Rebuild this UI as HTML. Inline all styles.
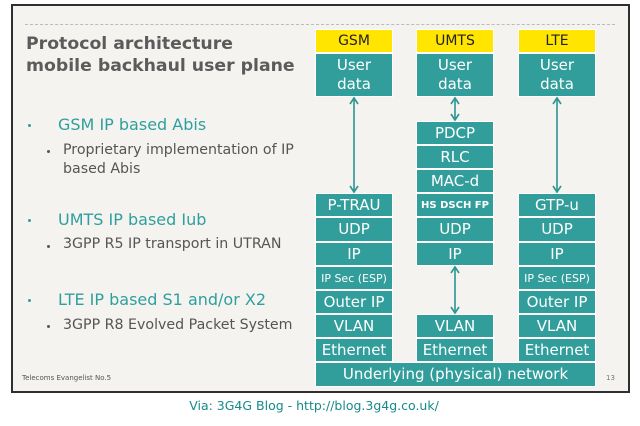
<!DOCTYPE html>
<html><head><meta charset="utf-8">
<style>
html,body{margin:0;padding:0;width:640px;height:426px;background:#fff;overflow:hidden;}
body{position:relative;font-family:"DejaVu Sans","Liberation Sans",sans-serif;}
.slide{position:absolute;left:11px;top:4px;width:615px;height:385px;border:2px solid #2f2f2f;background:#f4f3f0;}
.dash{position:absolute;left:25px;top:24px;width:590px;border-top:1px dashed #b8bcbc;}
.t{position:absolute;white-space:nowrap;}
.title{left:26px;top:33px;font-size:17.3px;font-weight:bold;color:#5b5b5b;line-height:22px;}
.h{color:#2f9f9d;font-size:16px;}
.s{color:#555;font-size:14.2px;line-height:19px;}
.dot{position:absolute;width:3px;height:3px;border-radius:50%;}
.b{position:absolute;box-sizing:border-box;background:#319e9b;border:1px solid #fff;color:#fff;font-size:15px;display:flex;align-items:center;justify-content:center;text-align:center;line-height:19px;}
.y{position:absolute;box-sizing:border-box;background:#ffe500;border:1px solid #fff;color:#222;font-size:14px;display:flex;align-items:center;justify-content:center;}
.sm{font-size:10px;font-weight:bold;}
.cap{position:absolute;left:0;width:628px;text-align:center;top:398px;font-size:12.5px;color:#178a8a;}
</style></head><body>
<div class="slide"></div>
<div class="dash"></div>
<div class="t title">Protocol architecture<br>mobile backhaul user plane</div>

<div class="dot" style="left:28px;top:124px;background:#2f9f9d"></div>
<div class="t h" style="left:58px;top:115px">GSM IP based Abis</div>
<div class="dot" style="left:47px;top:150px;background:#555"></div>
<div class="t s" style="left:63px;top:141px">Proprietary implementation of IP<br>based Abis</div>

<div class="dot" style="left:28px;top:219px;background:#2f9f9d"></div>
<div class="t h" style="left:58px;top:210px">UMTS IP based Iub</div>
<div class="dot" style="left:47px;top:245px;background:#555"></div>
<div class="t s" style="left:63px;top:235px">3GPP R5 IP transport in UTRAN</div>

<div class="dot" style="left:28px;top:299px;background:#2f9f9d"></div>
<div class="t h" style="left:58px;top:290px">LTE IP based S1 and/or X2</div>
<div class="dot" style="left:47px;top:325px;background:#555"></div>
<div class="t s" style="left:63px;top:316px">3GPP R8 Evolved Packet System</div>

<div class="t" style="left:22px;top:374px;font-size:7px;color:#555">Telecoms Evangelist No.5</div>
<div class="t" style="left:606px;top:374px;font-size:7px;color:#777">13</div>

<div class="y" style="left:315px;top:29px;width:78px;height:24px">GSM</div>
<div class="y" style="left:416px;top:29px;width:78px;height:24px">UMTS</div>
<div class="y" style="left:518px;top:29px;width:78px;height:24px">LTE</div>
<div class="b" style="left:315px;top:53px;width:78px;height:44px">User<br>data</div>
<div class="b" style="left:416px;top:53px;width:78px;height:44px">User<br>data</div>
<div class="b" style="left:518px;top:53px;width:78px;height:44px">User<br>data</div>

<div class="b" style="left:416px;top:121px;width:78px;height:24px">PDCP</div>
<div class="b" style="left:416px;top:145px;width:78px;height:24px">RLC</div>
<div class="b" style="left:416px;top:169px;width:78px;height:24px">MAC-d</div>

<div class="b" style="left:315px;top:193px;width:78px;height:24px">P-TRAU</div>
<div class="b sm" style="left:416px;top:193px;width:78px;height:24px">HS DSCH FP</div>
<div class="b" style="left:518px;top:193px;width:78px;height:24px">GTP-u</div>

<div class="b" style="left:315px;top:217px;width:78px;height:25px">UDP</div>
<div class="b" style="left:416px;top:217px;width:78px;height:25px">UDP</div>
<div class="b" style="left:518px;top:217px;width:78px;height:25px">UDP</div>

<div class="b" style="left:315px;top:242px;width:78px;height:24px">IP</div>
<div class="b" style="left:416px;top:242px;width:78px;height:24px">IP</div>
<div class="b" style="left:518px;top:242px;width:78px;height:24px">IP</div>

<div class="b" style="left:315px;top:266px;width:78px;height:24px;font-size:11px">IP Sec (ESP)</div>
<div class="b" style="left:518px;top:266px;width:78px;height:24px;font-size:11px">IP Sec (ESP)</div>

<div class="b" style="left:315px;top:290px;width:78px;height:24px">Outer IP</div>
<div class="b" style="left:518px;top:290px;width:78px;height:24px">Outer IP</div>

<div class="b" style="left:315px;top:314px;width:78px;height:24px">VLAN</div>
<div class="b" style="left:416px;top:314px;width:78px;height:24px">VLAN</div>
<div class="b" style="left:518px;top:314px;width:78px;height:24px">VLAN</div>

<div class="b" style="left:315px;top:338px;width:78px;height:24px">Ethernet</div>
<div class="b" style="left:416px;top:338px;width:78px;height:24px">Ethernet</div>
<div class="b" style="left:518px;top:338px;width:78px;height:24px">Ethernet</div>

<div class="b" style="left:315px;top:362px;width:281px;height:25px">Underlying (physical) network</div>

<svg style="position:absolute;left:0;top:0" width="640" height="426">
<g stroke="#2a9592" stroke-width="1.6" fill="none">
<line x1="354" y1="99" x2="354" y2="191"/>
<polyline points="350,104 354,98 358,104"/><polyline points="350,186 354,192 358,186"/>
<line x1="455" y1="99" x2="455" y2="119"/>
<polyline points="451,104 455,98 459,104"/><polyline points="451,114 455,120 459,114"/>
<line x1="557" y1="99" x2="557" y2="191"/>
<polyline points="553,104 557,98 561,104"/><polyline points="553,186 557,192 561,186"/>
<line x1="455" y1="268" x2="455" y2="312"/>
<polyline points="451,273 455,267 459,273"/><polyline points="451,307 455,313 459,307"/>
</g></svg>

<div class="cap">Via: 3G4G Blog - http://blog.3g4g.co.uk/</div>
</body></html>
